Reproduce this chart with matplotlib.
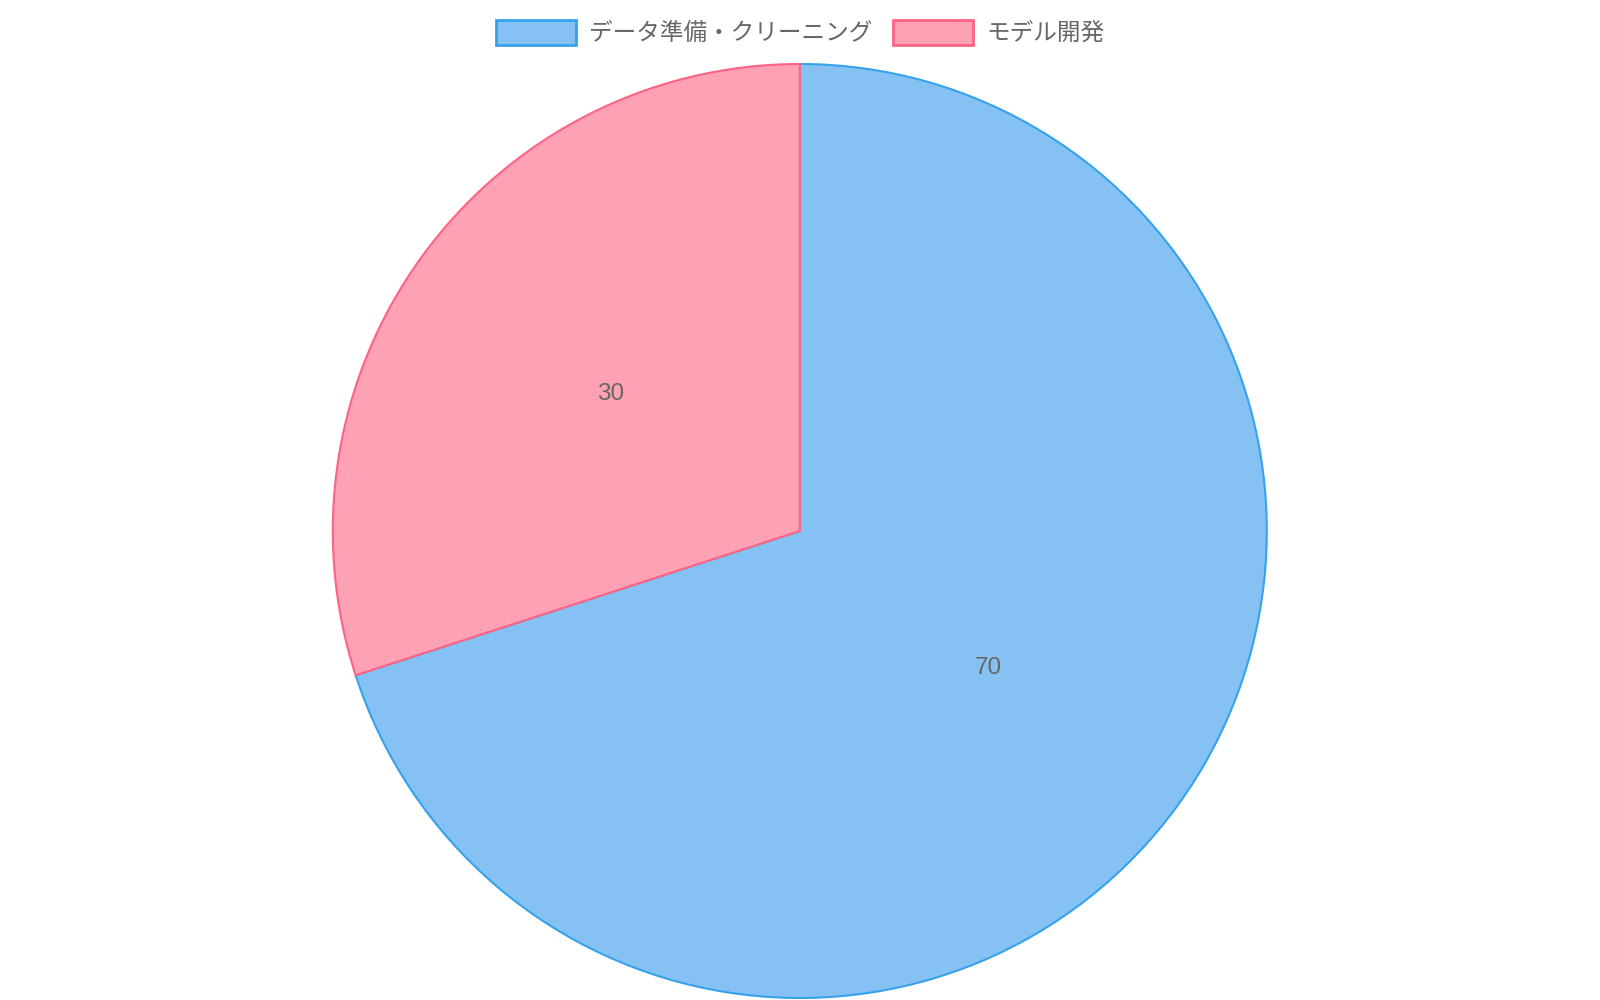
import matplotlib
matplotlib.use('Agg')
import matplotlib.pyplot as plt
from matplotlib.patches import Patch

plt.rcParams['font.family'] = ['Liberation Sans', 'Noto Sans CJK JP', 'DejaVu Sans']

labels = ['データ準備・クリーニング', 'モデル開発']
values = [70, 30]
fills = ['#86C1F3', '#FFA1B5']
edges = ['#36A2EB', '#FF6384']

fig = plt.figure(figsize=(16, 10), dpi=100)
ax = fig.add_axes([0.208, 0.002, 0.58375, 0.934])

wedges, texts, autotexts = ax.pie(values, colors=fills, startangle=90, counterclock=False,
                                  radius=1.0, autopct=lambda p: '%d' % round(p * sum(values) / 100),
                                  pctdistance=0.5, textprops={'fontsize': 17.5, 'color': '#666666'})
for w, ec in zip(wedges, edges):
    w.set_edgecolor(ec)
    w.set_linewidth(1.5)
    w.set_clip_on(False)

ax.set_xlim(-1, 1)
ax.set_ylim(-1, 1)
ax.set_aspect('equal')
ax.axis('off')

handles = [Patch(facecolor=f, edgecolor=e, linewidth=2) for f, e in zip(fills, edges)]
leg = fig.legend(handles, labels, loc='center', bbox_to_anchor=(0.5, 0.967), ncol=2,
                 frameon=False, fontsize=17, handlelength=3.4, handleheight=1.2,
                 handletextpad=0.55, columnspacing=0.85, borderaxespad=0)
for t in leg.get_texts():
    t.set_color('#666666')

fig.savefig('out.png', dpi=100)
